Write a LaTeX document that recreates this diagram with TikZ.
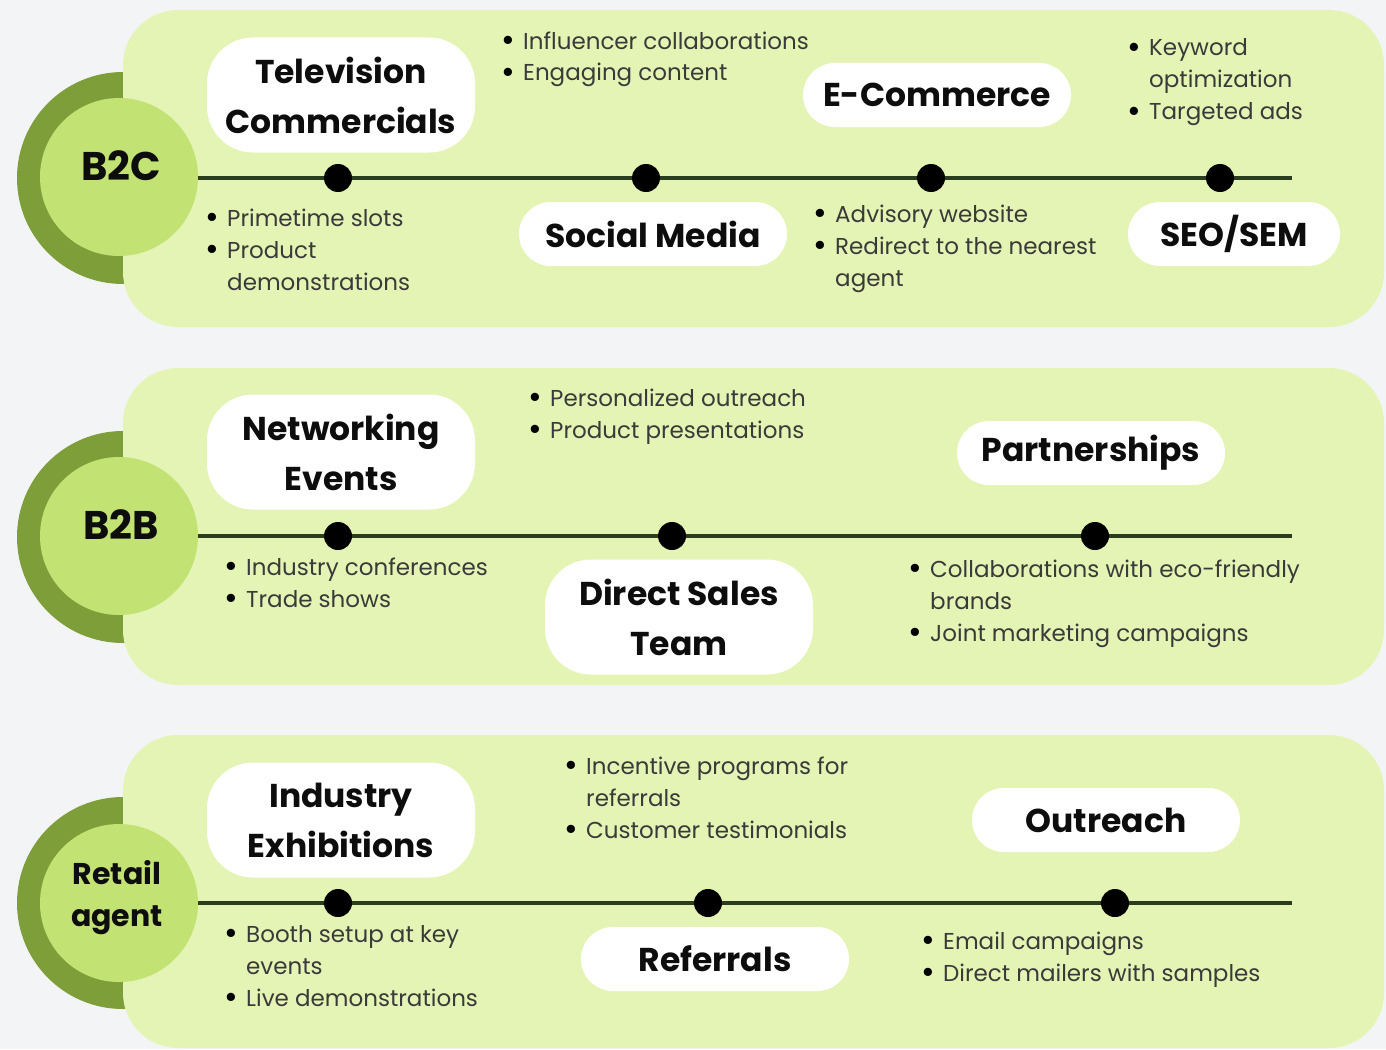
\documentclass[tikz,border=0pt]{standalone}
\usepackage{fontspec}
\setmainfont{Poppins}
\definecolor{bg}{HTML}{F3F4F6}
\definecolor{band}{HTML}{E4F4B4}
\definecolor{outerc}{HTML}{7E9E3A}
\definecolor{innerc}{HTML}{C3E274}
\definecolor{linec}{HTML}{2B3D1F}
\definecolor{titletext}{HTML}{0D0D0D}
\definecolor{bultext}{HTML}{3A3A3A}
\newlength\bulw \setlength\bulw{22pt}
\newcommand\bl{\makebox[\bulw][l]{\smash{\raisebox{-0.2ex}{\scalebox{1.45}{\textcolor{black}{\textbullet}}}}}}
\newcommand\ind{\hspace*{\bulw}}
\newcommand\blist[1]{{\fontsize{23}{32}\selectfont\color{bultext}\begin{tabular}[t]{@{}l@{}}#1\end{tabular}}}
\newcommand\titlef{\fontsize{33}{50}\selectfont\bfseries}
\newcommand\circf{\fontsize{40}{42}\selectfont\bfseries}
\newcommand\circfs{\fontsize{30}{42}\selectfont\bfseries}
\tikzset{
  pill/.style={fill=white, rounded corners=32pt, minimum width=268pt, minimum height=64pt, align=center, inner sep=0pt, font=\titlef, text=titletext},
  pilltwo/.style={pill, minimum height=115pt, rounded corners=46pt},
  dotn/.style={circle, fill=black, minimum size=28pt, inner sep=0pt},
  tl/.style={draw=linec, line width=4.5pt},
  lst/.style={anchor=base west, inner sep=0pt},
  outerring/.style={circle, fill=outerc, minimum size=212pt, inner sep=0pt},
  innerdisc/.style={circle, fill=innerc, minimum size=158pt, inner sep=0pt},
  clabel/.style={inner sep=0pt, align=center, text=titletext},
  bandfill/.style={fill=band, rounded corners=55pt}
}
\begin{document}
\begin{tikzpicture}[x=1pt,y=-1pt]
\useasboundingbox (0,0) rectangle (1386,1049);
\fill[bg] (0,0) rectangle (1386,1049);

% ---------- B2C ----------
\node[outerring] (o1) at (123,178) {};
\fill[bandfill] (123,10) rectangle (1384,327);
\node[innerdisc] (c1) at (119,177) {};
\node[clabel, font=\circf] (l1) at (121,166) {B2C};
\coordinate (e1) at (1292,178);
\draw[tl] (c1.east |- e1) -- (e1);
\node[dotn] (d11) at (338,178) {};
\node[dotn] (d12) at (646,178) {};
\node[dotn] (d13) at (931,178) {};
\node[dotn] (d14) at (1220,178) {};
\node[pilltwo] (p11) at (341,95) {Television\\Commercials};
\node[pill] (p12) at (653,234) {Social Media};
\node[pill] (p13) at (937,95) {E-Commerce};
\node[pill, minimum width=212pt] (p14) at (1234,234) {SEO/SEM};
\node[lst] (b11) at ([xshift=-\bulw]227,226) {\blist{\bl Primetime slots\\ \bl Product\\ \ind demonstrations}};
\node[lst] (b12) at ([xshift=-\bulw]523,49) {\blist{\bl Influencer collaborations\\ \bl Engaging content}};
\node[lst] (b13) at ([xshift=-\bulw]835,222) {\blist{\bl Advisory website\\ \bl Redirect to the nearest\\ \ind agent}};
\node[lst] (b14) at ([xshift=-\bulw]1149,56) {\blist{\bl Keyword\\ \ind optimization\\ \bl Targeted ads}};

% ---------- B2B ----------
\node[outerring] (o2) at (123,537) {};
\fill[bandfill] (123,368) rectangle (1384,685);
\node[innerdisc] (c2) at (119,536) {};
\node[clabel, font=\circf] (l2) at (121,525) {B2B};
\coordinate (e2) at (1292,536);
\draw[tl] (c2.east |- e2) -- (e2);
\node[dotn] (d21) at (338,536) {};
\node[dotn] (d22) at (672,536) {};
\node[dotn] (d23) at (1095,536) {};
\node[pilltwo] (p21) at (341,452) {Networking\\Events};
\node[pilltwo] (p22) at (679,617) {Direct Sales\\Team};
\node[pill] (p23) at (1091,453) {Partnerships};
\node[lst] (b21) at ([xshift=-\bulw]246,575) {\blist{\bl Industry conferences\\ \bl Trade shows}};
\node[lst] (b22) at ([xshift=-\bulw]550,406) {\blist{\bl Personalized outreach\\ \bl Product presentations}};
\node[lst] (b23) at ([xshift=-\bulw]930,577) {\blist{\bl Collaborations with eco-friendly\\ \ind brands\\ \bl Joint marketing campaigns}};

% ---------- Retail agent ----------
\node[outerring] (o3) at (123,903) {};
\fill[bandfill] (123,735) rectangle (1384,1048);
\node[innerdisc] (c3) at (119,903) {};
\node[clabel, font=\circfs] (l3) at (117,898) {Retail\\agent};
\coordinate (e3) at (1292,903);
\draw[tl] (c3.east |- e3) -- (e3);
\node[dotn] (d31) at (338,903) {};
\node[dotn] (d32) at (708,903) {};
\node[dotn] (d33) at (1115,903) {};
\node[pilltwo] (p31) at (341,820) {Industry\\Exhibitions};
\node[pill] (p32) at (715,959) {Referrals};
\node[pill] (p33) at (1106,820) {Outreach};
\node[lst] (b31) at ([xshift=-\bulw]246,942) {\blist{\bl Booth setup at key\\ \ind events\\ \bl Live demonstrations}};
\node[lst] (b32) at ([xshift=-\bulw]586,774) {\blist{\bl Incentive programs for\\ \ind referrals\\ \bl Customer testimonials}};
\node[lst] (b33) at ([xshift=-\bulw]943,949) {\blist{\bl Email campaigns\\ \bl Direct mailers with samples}};
\end{tikzpicture}
\end{document}
